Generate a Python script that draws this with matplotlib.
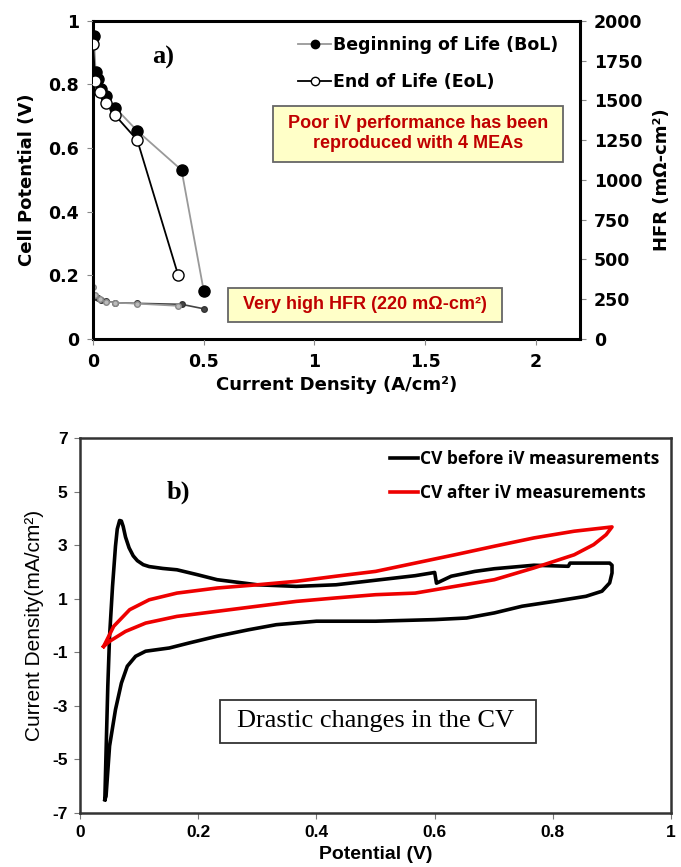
import matplotlib
matplotlib.use("Agg")
import matplotlib.pyplot as plt
from matplotlib.lines import Line2D
from matplotlib.patches import Rectangle

plt.rcParams["axes.unicode_minus"] = False

# panel a) polarization curves and HFR
bol_j = [0.003, 0.012, 0.023, 0.038, 0.06, 0.1, 0.2, 0.4, 0.5]
bol_v = [0.953, 0.839, 0.816, 0.785, 0.764, 0.727, 0.654, 0.531, 0.152]
bol_hfr = [268, 262, 255, 245, 238, 228, 224, 218, 190]

eol_j = [0.0, 0.01, 0.03, 0.06, 0.1, 0.2, 0.385]
eol_v = [0.927, 0.81, 0.775, 0.743, 0.703, 0.625, 0.2]
eol_hfr = [325, 275, 250, 235, 228, 222, 208]

# panel b) cyclic voltammograms
cv_before_x = [0.042, 0.044, 0.047, 0.050, 0.055, 0.060, 0.063, 0.067, 0.070, 0.073, 0.077,
               0.083, 0.090, 0.097, 0.107, 0.117, 0.140, 0.164, 0.198, 0.232, 0.300, 0.366,
               0.433, 0.500, 0.567, 0.600, 0.603, 0.607, 0.628, 0.668, 0.701, 0.768, 0.826,
               0.829, 0.896, 0.900, 0.900, 0.896, 0.883, 0.856, 0.802, 0.748, 0.701, 0.654,
               0.600, 0.500, 0.400, 0.332, 0.285, 0.232, 0.185, 0.151, 0.111, 0.094, 0.080,
               0.070, 0.060, 0.050, 0.044, 0.042]
cv_before_y = [-6.5, -4.76, -2.27, -0.4, 1.46, 2.96, 3.6, 3.92, 3.9, 3.7, 3.3,
               2.9, 2.6, 2.42, 2.27, 2.2, 2.13, 2.08, 1.9, 1.71, 1.52, 1.46,
               1.52, 1.69, 1.86, 1.98, 1.58, 1.62, 1.84, 2.02, 2.12, 2.25, 2.21,
               2.33, 2.33, 2.25, 1.96, 1.59, 1.28, 1.09, 0.9, 0.72, 0.47, 0.28,
               0.22, 0.16, 0.16, 0.03, -0.16, -0.4, -0.65, -0.84, -0.96, -1.15, -1.52,
               -2.15, -3.14, -4.5, -6.38, -6.5]

cv_after_x = [0.040, 0.057, 0.084, 0.117, 0.164, 0.232, 0.300, 0.366, 0.433, 0.500, 0.567,
              0.634, 0.701, 0.768, 0.836, 0.900, 0.890, 0.869, 0.836, 0.768, 0.701, 0.634,
              0.567, 0.500, 0.433, 0.366, 0.300, 0.232, 0.164, 0.111, 0.077, 0.050, 0.040]
cv_after_y = [-0.78, -0.03, 0.59, 0.96, 1.21, 1.4, 1.52, 1.65, 1.84, 2.02, 2.33,
              2.64, 2.96, 3.27, 3.52, 3.68, 3.39, 3.02, 2.64, 2.15, 1.71, 1.46,
              1.21, 1.15, 1.03, 0.9, 0.72, 0.53, 0.34, 0.09, -0.22, -0.59, -0.78]

fig = plt.figure(figsize=(6.81, 8.67), dpi=100)

# ---------- top panel ----------
ax1 = fig.add_axes([0.1366, 0.609, 0.715, 0.367])
ax2 = ax1.twinx()
vfont = {"family": "DejaVu Sans", "weight": "bold"}

ax2.plot(bol_j, bol_hfr, "-o", color="#444444", lw=1.2, ms=4, mfc="#444444", mec="#333333")
ax2.plot(eol_j, eol_hfr, "-o", color="#999999", lw=1.2, ms=4, mfc="#bbbbbb", mec="#888888")

ax1.plot(bol_j, bol_v, "-o", color="#999999", lw=1.3, ms=8, mfc="black", mec="black", zorder=3)
ax1.plot(eol_j, eol_v, "-o", color="black", lw=1.3, ms=8, mfc="white", mec="black", zorder=4)
ax1.set_zorder(ax2.get_zorder() + 1)
ax1.patch.set_visible(False)

ax1.set_xlim(0, 2.2)
ax1.set_ylim(0, 1)
ax2.set_ylim(0, 2000)
ax1.set_xticks([0, 0.5, 1, 1.5, 2])
ax1.set_xticklabels(["0", "0.5", "1", "1.5", "2"])
ax1.set_yticks([0, 0.2, 0.4, 0.6, 0.8, 1])
ax1.set_yticklabels(["0", "0.2", "0.4", "0.6", "0.8", "1"])
ax2.set_yticks(range(0, 2001, 250))
for a in (ax1, ax2):
    for lab in a.get_xticklabels() + a.get_yticklabels():
        lab.set_fontfamily("DejaVu Sans")
        lab.set_fontweight("bold")
        lab.set_fontsize(12.5)
    a.tick_params(direction="out", length=4, width=0.8, color="#888888", pad=6)
for s in ax2.spines.values():
    s.set_linewidth(2.2)

ax1.set_xlabel("Current Density (A/cm²)", fontsize=13, labelpad=4, **vfont)
ax1.set_ylabel("Cell Potential (V)", fontsize=13, labelpad=9, **vfont)
ax2.set_ylabel("HFR (mΩ-cm²)", fontsize=13, labelpad=8, **vfont)

ax1.text(0.144, 0.884, "a)", fontsize=19, fontweight="bold", family="Liberation Serif",
         ha="center", va="center", transform=ax1.transAxes)

handles = [
    Line2D([], [], color="#999999", lw=1.3, marker="o", ms=6, mfc="black", mec="black"),
    Line2D([], [], color="black", lw=1.3, marker="o", ms=6, mfc="white", mec="black"),
]
ax1.legend(handles, ["Beginning of Life (BoL)", "End of Life (EoL)"], loc="upper right",
           bbox_to_anchor=(0.98, 0.99), frameon=False, handlelength=1.9, handletextpad=0.1,
           labelspacing=1.1, borderaxespad=0.3,
           prop={"family": "DejaVu Sans", "weight": "bold", "size": 12.5})

ax1.add_patch(Rectangle((0.370, 0.557), 0.595, 0.176, transform=ax1.transAxes,
                        fc="#ffffc8", ec="#666666", lw=1.3, zorder=5))
ax1.text(0.667, 0.645, "Poor iV performance has been\nreproduced with 4 MEAs", ha="center",
         va="center", color="#c00000", fontsize=13, fontweight="bold",
         family="Liberation Sans", linespacing=1.2, transform=ax1.transAxes, zorder=6)
ax1.add_patch(Rectangle((0.277, 0.053), 0.563, 0.107, transform=ax1.transAxes,
                        fc="#ffffc8", ec="#666666", lw=1.3, zorder=5))
ax1.text(0.559, 0.107, "Very high HFR (220 mΩ-cm²)", ha="center", va="center",
         color="#c00000", fontsize=13, fontweight="bold", family="Liberation Sans",
         transform=ax1.transAxes, zorder=6)

# ---------- bottom panel ----------
ax3 = fig.add_axes([0.1175, 0.0623, 0.868, 0.4325])
ax3.plot(cv_before_x, cv_before_y, color="black", lw=2.6, solid_joinstyle="round",
         label="CV before iV measurements")
ax3.plot(cv_after_x, cv_after_y, color="#ee0000", lw=2.6, solid_joinstyle="round",
         label="CV after iV measurements")
ax3.set_xlim(0, 1)
ax3.set_ylim(-7, 7)
ax3.set_xticks([0, 0.2, 0.4, 0.6, 0.8, 1])
ax3.set_xticklabels(["0", "0.2", "0.4", "0.6", "0.8", "1"])
ax3.set_yticks([-7, -5, -3, -1, 1, 3, 5, 7])
for lab in ax3.get_xticklabels() + ax3.get_yticklabels():
    lab.set_fontfamily("Liberation Sans")
    lab.set_fontweight("bold")
    lab.set_fontsize(12.5)
ax3.tick_params(direction="out", length=4, width=0.8, color="#777777", pad=5)
for s in ax3.spines.values():
    s.set_linewidth(1.8)
    s.set_color("#333333")
ax3.set_xlabel("Potential (V)", fontsize=14, fontweight="bold", family="Liberation Sans",
               labelpad=4)
ax3.set_ylabel("Current Density(mA/cm²)", fontsize=15, family="Liberation Sans", labelpad=6)

ax3.legend(loc="upper right", bbox_to_anchor=(1.0, 1.0), frameon=False, handlelength=1.6,
           handletextpad=0.1, labelspacing=0.9, borderaxespad=0.3,
           prop={"family": "Open Sans", "weight": "bold", "size": 12.5})
ax3.text(0.167, 0.856, "b)", fontsize=19, fontweight="bold", family="Liberation Serif",
         ha="center", va="center", transform=ax3.transAxes)
ax3.add_patch(Rectangle((0.237, 0.187), 0.535, 0.114, transform=ax3.transAxes,
                        fc="white", ec="#333333", lw=1.3, zorder=5))
ax3.text(0.5, 0.244, "Drastic changes in the CV", fontsize=19, family="Liberation Serif",
         ha="center", va="center", transform=ax3.transAxes, zorder=6)

fig.savefig("out.png", dpi=100)
